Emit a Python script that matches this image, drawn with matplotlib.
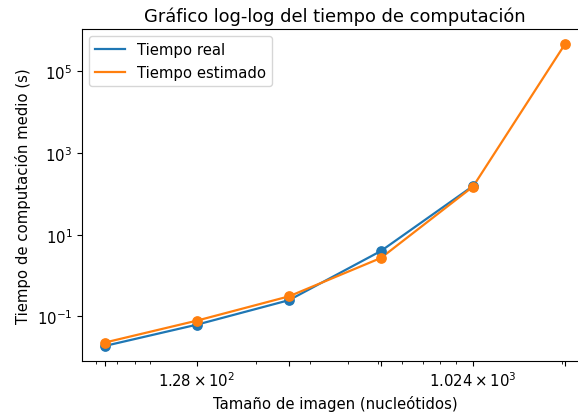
import matplotlib
matplotlib.use("Agg")
import matplotlib.pyplot as plt
from matplotlib.ticker import NullLocator

sizes = [64, 128, 256, 512, 1024, 2048]
real_sizes = [64, 128, 256, 512, 1024]
t_real = [0.019, 0.063, 0.25, 4.0, 155]
t_est = [0.023, 0.079, 0.31, 2.7, 150, 4.6e5]
y_ticks = [1e-1, 1e1, 1e3, 1e5]

plt.rcParams['font.size'] = 10.7

fig = plt.figure(figsize=(5.78, 4.14), dpi=100)
ax = fig.add_axes([82/578, 52/414, 506/578, 332/414])

ax.plot(real_sizes, t_real, color='C0', lw=1.6, label='Tiempo real')
ax.scatter(real_sizes, t_real, color='C0', s=45, zorder=3)
ax.plot(sizes, t_est, color='C1', lw=1.6, label='Tiempo estimado')
ax.scatter(sizes, t_est, color='C1', s=45, zorder=3)

ax.set_xscale('log')
ax.set_yscale('log')
ax.set_xticks(sizes)
ax.set_yticks(y_ticks)
ax.yaxis.set_minor_locator(NullLocator())
ax.set_xlabel('Tamaño de imagen (nucleótidos)')
ax.set_ylabel('Tiempo de computación medio (s)')
ax.set_title('Gráfico log-log del tiempo de computación', fontsize=12.9)
ax.legend(loc='upper left')

fig.savefig('out.png', dpi=100)
